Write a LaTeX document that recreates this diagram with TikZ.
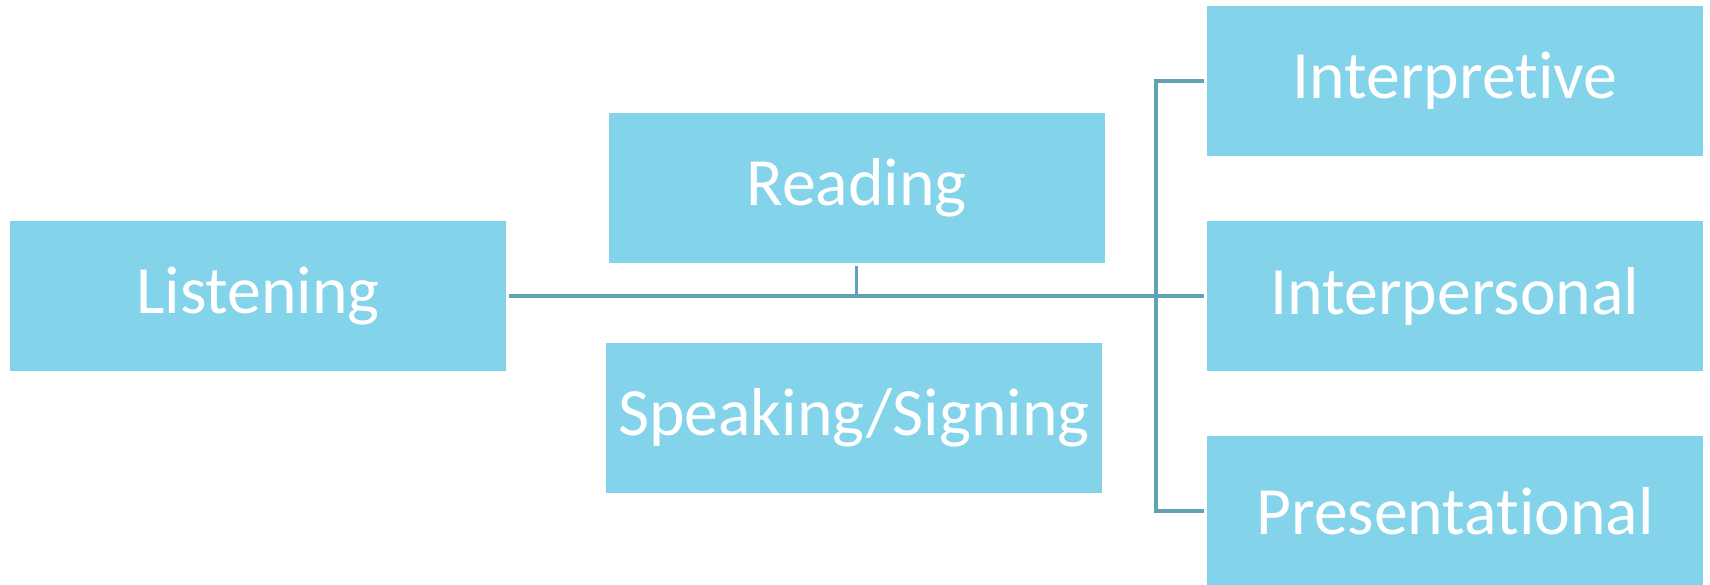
\documentclass[tikz,border=0pt]{standalone}
\usepackage{fontspec}
\setmainfont[Ligatures=NoCommon]{Carlito}
\usepackage{tikz}
\usetikzlibrary{positioning,calc}
\definecolor{boxblue}{HTML}{83D3EB}
\definecolor{linkteal}{HTML}{5FA3B5}

\begin{document}
\begin{tikzpicture}[
    modebox/.style={fill=boxblue,draw=none,minimum width=9.92cm,minimum height=3cm,
      inner sep=0pt,text=white,font=\fontsize{38.5}{46}\selectfont},
    link/.style={draw=linkteal,line width=2pt}]
  \useasboundingbox (0,0) rectangle (34.2,-11.7);
  % Left and middle boxes
  \node[modebox] (listen) at (5.16,-5.92) {Listening};
  \node[modebox] (read) at (17.13,-3.76) {Reading};
  \node[modebox] (speak) at (17.08,-8.36) {Speaking/Signing};
  % Modes of communication
  \node[modebox] (interp) at (29.1,-1.62) {Interpretive};
  \node[modebox] (inperson) at (29.1,-5.92) {Interpersonal};
  \node[modebox] (present) at (29.1,-10.22) {Presentational};
  % Connectors
  \coordinate (trunk) at (23.12,-5.92);
  \draw[link] ([xshift=0.06cm]listen.east) -- ([xshift=-0.05cm]inperson.west);
  \draw[link] ([yshift=-0.06cm]read.south) -- (read.south |- listen.east);
  \draw[link] ([xshift=-0.05cm]interp.west) -| (trunk) |- ([xshift=-0.05cm]present.west);
\end{tikzpicture}
\end{document}
